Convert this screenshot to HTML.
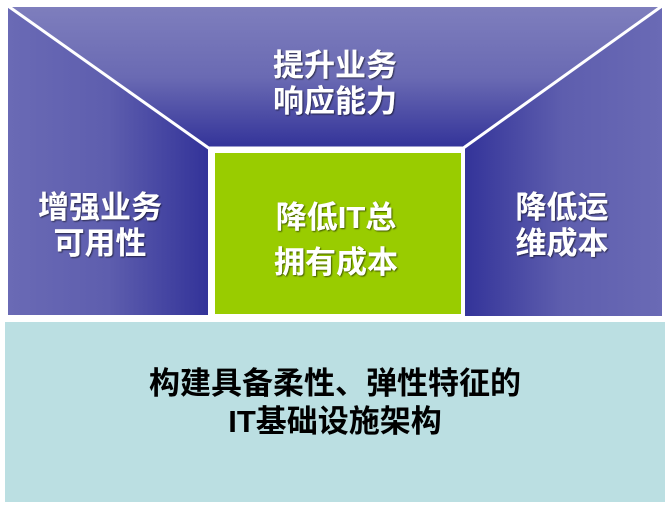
<!DOCTYPE html>
<html><head><meta charset="utf-8"><style>
html,body{margin:0;padding:0;background:#fff;width:670px;height:507px;overflow:hidden}
svg{display:block}
text{font-family:"Liberation Sans","Noto Sans CJK SC",sans-serif;font-weight:bold}
</style></head><body>
<svg width="670" height="507" viewBox="0 0 670 507">
<defs>
<linearGradient id="gt" x1="0" y1="0" x2="0" y2="1"><stop offset="0" stop-color="#7e7ebd"/><stop offset="0.5" stop-color="#6a6ab3"/><stop offset="1" stop-color="#333399"/></linearGradient>
<linearGradient id="gl" x1="0" y1="0" x2="1" y2="0"><stop offset="0" stop-color="#6a6ab5"/><stop offset="0.5" stop-color="#5e5eae"/><stop offset="1" stop-color="#333399"/></linearGradient>
<linearGradient id="gr" x1="1" y1="0" x2="0" y2="0"><stop offset="0" stop-color="#6a6ab5"/><stop offset="0.5" stop-color="#5e5eae"/><stop offset="1" stop-color="#333399"/></linearGradient>
<filter id="sh"><feDropShadow dx="1" dy="1" stdDeviation="0.8" flood-color="#000" flood-opacity="0.6"/></filter>
</defs>
<polygon points="8,7 208,148 208,315 8,315" fill="url(#gl)"/>
<polygon points="662,7 464,148 464,316 662,316" fill="url(#gr)"/>
<polygon points="8,7 662,7 464,148 208,148" fill="url(#gt)"/>
<line x1="8" y1="6" x2="210" y2="149" stroke="#fff" stroke-width="3"/>
<line x1="662" y1="6" x2="462" y2="149" stroke="#fff" stroke-width="3"/>
<line x1="208" y1="148" x2="464" y2="148" stroke="#fff" stroke-width="3"/>
<rect x="208" y="148" width="5" height="170" fill="#fff"/>
<rect x="461" y="148" width="4" height="170" fill="#fff"/>
<rect x="215" y="153" width="246" height="161" fill="#99cc00"/>
<rect x="5" y="322" width="660" height="180" fill="#bbdfe2"/>
<g fill="#fff" font-size="31" text-anchor="middle" filter="url(#sh)">
<text x="335" y="76">提升业务</text>
<text x="335" y="112">响应能力</text>
<text x="100" y="218">增强业务</text>
<text x="100" y="254">可用性</text>
<text x="336" y="228">降低IT总</text>
<text x="336" y="273">拥有成本</text>
<text x="562" y="218">降低运</text>
<text x="562" y="254">维成本</text>
</g>
<g fill="#000" font-size="31" text-anchor="middle">
<text x="335" y="394">构建具备柔性、弹性特征的</text>
<text x="335" y="432">IT基础设施架构</text>
</g>
</svg>
</body></html>
